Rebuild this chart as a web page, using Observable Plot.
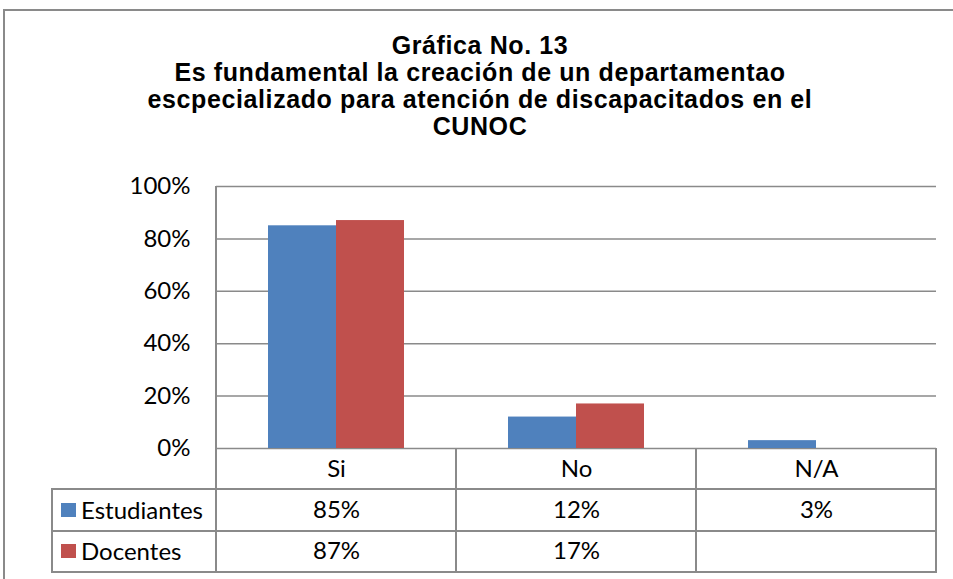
<!DOCTYPE html>
<html>
<head>
<meta charset="utf-8">
<script src="https://cdn.jsdelivr.net/npm/d3@7"></script>
<script src="https://cdn.jsdelivr.net/npm/@observablehq/plot@0.6"></script>
<style>
  html, body { margin: 0; padding: 0; background: #fff; }
  #wrap { position: relative; width: 953px; height: 579px; overflow: hidden; background: #fff; }
  #title { position: relative; height: 150px; box-sizing: border-box; padding-top: 31px; width: 960px;
           text-align: center; font-family: "Liberation Sans", Arial, sans-serif; font-weight: bold;
           font-size: 25px; line-height: 28px; letter-spacing: 0.6px; color: #000; }
  #title div { height: 27px; }
  #chart svg { display: block; overflow: visible; }
  .ln { position: absolute; background: #8a8a8a; }
  .lg { position: absolute; font-family: Lato, sans-serif; font-size: 24px; color: #000; white-space: nowrap; }
  .sw { position: absolute; width: 15px; height: 14px; }
</style>
</head>
<body>
<div id="wrap">
  <div id="title"></div>
  <div id="chart"></div>
</div>
<script>
// ---- data ----
const titleLines = [
  "Gráfica No. 13",
  "Es fundamental la creación de un departamentao",
  "escpecializado para atención de discapacitados en el",
  "CUNOC"
];
const categories = ["Si", "No", "N/A"];
const series = ["Estudiantes", "Docentes"];
const estudiantes = [85, 12, 3];
const docentes = [87, 17, null];
const yTicks = [0, 20, 40, 60, 80, 100];
const colors = ["#4F81BD", "#C0504D"];

// ---- derived tables ----
const valuesBySeries = {Estudiantes: estudiantes, Docentes: docentes};
const bars = [];
const cells = [];
categories.forEach((c, i) => {
  series.forEach((s, j) => {
    const v = valuesBySeries[s][i];
    if (v != null) {
      bars.push({cat: c, s, v});
      cells.push({cat: c, s, row: j, label: v + "%"});
    }
  });
});

const titleEl = document.getElementById("title");
titleLines.forEach(t => {
  const d = document.createElement("div");
  d.textContent = t;
  titleEl.appendChild(d);
});

const TOP = 150;           // title block height
const ROW1 = 41, ROWH = 41.5; // header row height, body row height (px)
const chart = Plot.plot({
  width: 953,
  height: 429,
  marginLeft: 215,
  marginRight: 16,
  marginTop: 36,
  marginBottom: 131,
  style: {fontFamily: "Lato, sans-serif", fontSize: "24px", color: "#000", background: "transparent", overflow: "visible"},
  fx: {domain: categories, padding: 0, label: null, axis: "bottom", tickSize: 0, tickPadding: 11},
  x: {domain: series, paddingInner: 0, paddingOuter: 0.757, axis: null},
  y: {domain: [0, 100], ticks: yTicks, tickSize: 0, tickPadding: 26, tickFormat: d => d + "%", label: null},
  color: {domain: series, range: colors},
  marks: [
    Plot.ruleY(yTicks, {stroke: "#8a8a8a", strokeWidth: 1.5}),
    Plot.barY(bars, {fx: "cat", x: "s", y: "v", fill: "s"}),
    Plot.text(cells.filter(d => d.row === 0), {fx: "cat", text: "label", frameAnchor: "bottom", lineAnchor: "middle", dy: 62, fill: "#000"}),
    Plot.text(cells.filter(d => d.row === 1), {fx: "cat", text: "label", frameAnchor: "bottom", lineAnchor: "middle", dy: 103, fill: "#000"})
  ]
});
document.getElementById("chart").appendChild(chart);

// ---- table grid overlay (page coordinates) ----
const wrap = document.getElementById("wrap");
function line(x, y, w, h) {
  const d = document.createElement("div");
  d.className = "ln";
  Object.assign(d.style, {left: x + "px", top: y + "px", width: w + "px", height: h + "px"});
  wrap.appendChild(d);
}
const fx = chart.scale("fx");
const bw = fx.bandwidth;
const colEdges = categories.map(c => fx.apply(c));
colEdges.push(colEdges[colEdges.length - 1] + bw);
const yPlotTop = TOP + 36, yBase = TOP + 429 - 131;
const yRow1 = yBase + ROW1, yRow2 = yRow1 + ROWH, yEnd = yRow2 + ROWH;
const legendLeft = 52;
const x0 = colEdges[0], xEnd = colEdges[colEdges.length - 1];
// outer chart border (left & top)
line(3, 9, 960, 2);
line(3, 9, 2, 600);
// vertical axis line + table column lines
line(x0 - 1, yPlotTop, 2, yEnd - yPlotTop + 1);
colEdges.slice(1).forEach(x => line(x - 1, yBase, 2, yEnd - yBase + 1));
line(legendLeft - 1, yRow1 - 1, 2, yEnd - yRow1 + 2);
// horizontal table lines
[yRow1, yRow2, yEnd].forEach(y => line(legendLeft - 1, y - 1, xEnd - legendLeft + 2, 2));

// legend column
series.forEach((s, j) => {
  const cy = yRow1 + ROWH * j + ROWH / 2;
  const sw = document.createElement("div");
  sw.className = "sw";
  Object.assign(sw.style, {left: "61px", top: (cy - 7) + "px", background: colors[j]});
  wrap.appendChild(sw);
  const t = document.createElement("div");
  t.className = "lg";
  t.textContent = s;
  Object.assign(t.style, {left: "81px", top: (cy - 15) + "px", lineHeight: "30px"});
  wrap.appendChild(t);
});
</script>
</body>
</html>
